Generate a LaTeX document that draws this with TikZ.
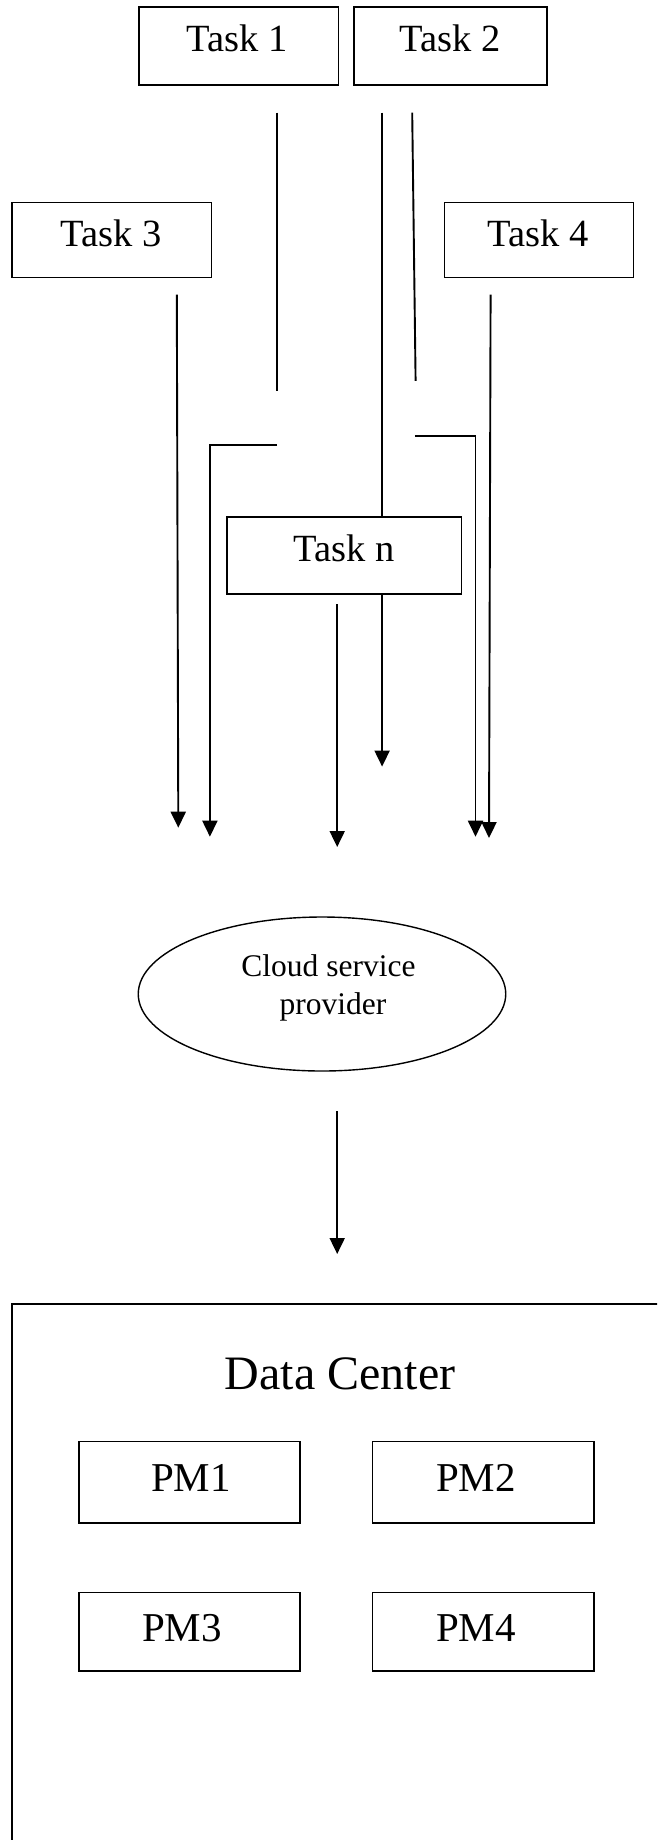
\documentclass[tikz,border=0pt]{standalone}
\usepackage{fontspec}
\setmainfont{Liberation Serif}
\usetikzlibrary{arrows.meta,shapes.geometric}
\begin{document}
\begin{tikzpicture}[x=1pt,y=-1pt,
  box/.style={draw, line width=1.6pt, fill=white, inner sep=0pt, anchor=north west},
  lbl/.style={inner sep=0pt, anchor=base},
  tasktxt/.style={lbl, font=\fontsize{38.5}{46}\selectfont},
  pmtxt/.style={lbl, font=\fontsize{41}{49}\selectfont},
  conn/.style={line width=1.9pt},
  arr/.style={conn, -{Triangle[length=16pt,width=15pt]}}]
\clip (0,0) rectangle (657,1840);
\fill[white] (0,0) rectangle (657,1840);

% connector end points
\coordinate (a1s) at (277,112.7);   \coordinate (a1e) at (277,390.7);
\coordinate (b1s) at (277,445.2);   \coordinate (b1k) at (209.9,445.2);  \coordinate (b1e) at (209.9,836.7);
\coordinate (a2s) at (382.1,112.7); \coordinate (a2e) at (382.1,766.6);
\coordinate (a3s) at (412.2,112.7); \coordinate (a3e) at (415.6,380.8);
\coordinate (b3s) at (414.8,435.7); \coordinate (b3k) at (475.5,435.7);  \coordinate (b3e) at (475.5,836.7);
\coordinate (c3s) at (176.8,294.6); \coordinate (c3e) at (178.3,827.7);
\coordinate (c4s) at (490.6,294.6); \coordinate (c4e) at (489,838);
\coordinate (cns) at (337.2,604);   \coordinate (cne) at (337.2,847);
\coordinate (cps) at (337.2,1111);  \coordinate (cpe) at (337.2,1254);

% task flows
\draw[conn] (a1s) -- (a1e);
\draw[arr] (b1s) -- (b1k) -- (b1e);
\draw[arr] (a2s) -- (a2e);
\draw[conn] (a3s) -- (a3e);
\draw[arr] (b3s) -- (b3k) -- (b3e);
\draw[arr] (c3s) -- (c3e);
\draw[arr] (c4s) -- (c4e);
\draw[arr] (cns) -- (cne);
\draw[arr] (cps) -- (cpe);

% tasks
\node[box, minimum width=199.4pt, minimum height=78.3pt] (t1) at (138.3,5.9) {};
\node[box, minimum width=192.7pt, minimum height=78.3pt] (t2) at (353.2,5.9) {};
\node[box, minimum width=199.4pt, minimum height=75.1pt] (t3) at (11.3,201.7) {};
\node[box, minimum width=188.9pt, minimum height=75.1pt] (t4) at (443.7,201.7) {};
\node[box, minimum width=234.6pt, minimum height=77pt] (tn) at (226.2,516) {};
\node[tasktxt] (t1l) at (237,51.4) {Task 1};
\node[tasktxt] (t2l) at (450,51.4) {Task 2};
\node[tasktxt] (t3l) at (111,246) {Task 3};
\node[tasktxt] (t4l) at (538,246) {Task 4};
\node[tasktxt] (tnl) at (344,561.5) {Task n};

% provider
\node[draw, ellipse, line width=1.4pt, inner sep=0pt, minimum width=367.5pt, minimum height=154pt] (csp) at (322,994) {};
\node[lbl, font=\fontsize{31.5}{38}\selectfont] (csp1) at (328.5,976.4) {Cloud service};
\node[lbl, font=\fontsize{31.5}{38}\selectfont] (csp2) at (333,1014) {provider};

% data center
\node[box, minimum width=700pt, minimum height=600pt] (dc) at (11.3,1303.2) {};
\node[lbl, font=\fontsize{48}{57}\selectfont] (dcl) at (340,1389) {Data Center};
\node[box, minimum width=221pt, minimum height=81.3pt] (pm1) at (78,1440.7) {};
\node[box, minimum width=221.6pt, minimum height=81.3pt] (pm2) at (371.6,1440.7) {};
\node[box, minimum width=221pt, minimum height=78.6pt] (pm3) at (78,1591.8) {};
\node[box, minimum width=221.6pt, minimum height=78.6pt] (pm4) at (371.6,1591.8) {};
\node[pmtxt] (pm1l) at (191,1491.4) {PM1};
\node[pmtxt] (pm2l) at (476,1491.4) {PM2};
\node[pmtxt] (pm3l) at (182,1641.4) {PM3};
\node[pmtxt] (pm4l) at (476,1641.4) {PM4};
\end{tikzpicture}
\end{document}
